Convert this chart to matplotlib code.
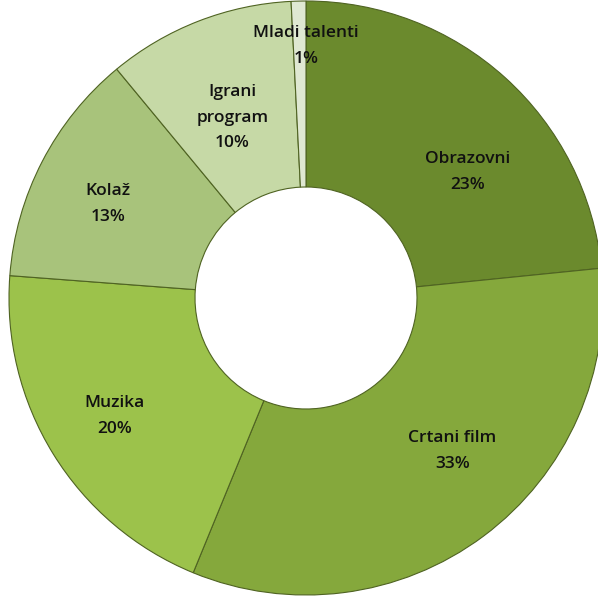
import numpy as np
import matplotlib
matplotlib.use("Agg")
import matplotlib.pyplot as plt

categories = ["Obrazovni", "Crtani film", "Muzika", "Kolaž", "Igrani\nprogram", "Mladi talenti"]
values = [23.4, 32.8, 20.0, 12.8, 10.2, 0.8]
colors = ["#6b8a2d", "#85a83c", "#9cc24b", "#a8c37b", "#c6d9a6", "#dfe8d2"]

W, H = 598, 596
fig = plt.figure(figsize=(W / 100, H / 100), dpi=100)
ax = fig.add_axes([0, 0, 1, 1])
cx, cy = 306, 298
R_out, R_in = 297, 111

wedges, _ = ax.pie(values, radius=R_out, startangle=90, counterclock=False,
                   colors=colors,
                   wedgeprops=dict(width=R_out - R_in, edgecolor="#4f6322", linewidth=0.8))
ax.set_xlim(-cx, W - cx)
ax.set_ylim(-(H - cy), cy)
ax.set_aspect("equal")
ax.axis("off")

# label placement: radius and angular nudge per slice (layout only)
label_r = [205, 212, 225, 219, 195, 252]
label_nudge = [-10, 7, 0, 2, 1, -1.4]
for w, name, v, r, dn in zip(wedges, categories, values, label_r, label_nudge):
    ang = np.deg2rad((w.theta1 + w.theta2) / 2 + dn)
    x, y = r * np.cos(ang), r * np.sin(ang)
    ax.text(x, y, f"{name}\n{round(v):d}%", ha="center", va="center",
            fontsize=12.5, fontweight="semibold", family=["Open Sans", "DejaVu Sans"],
            color="#111111", linespacing=1.8)

fig.savefig("out.png", dpi=100, facecolor="white")
